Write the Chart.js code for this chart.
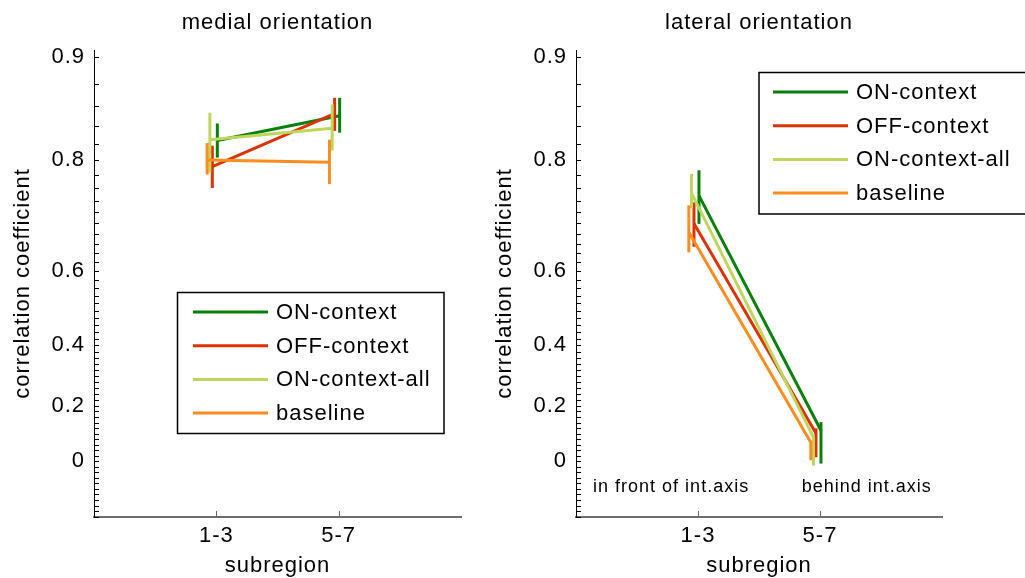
<!DOCTYPE html>
<html>
<head>
<meta charset="utf-8">
<script src="https://cdn.jsdelivr.net/npm/chart.js@4.4.0/dist/chart.umd.min.js"></script>
<style>
  html, body { margin: 0; padding: 0; background: #fff; }
  #wrap { position: relative; width: 1025px; height: 578px; overflow: hidden; }
  .panel { position: absolute; top: 0; height: 578px; }
  #left { left: 0; width: 500px; }
  #right { left: 490px; width: 535px; }
</style>
</head>
<body>
<div id="wrap">
  <div class="panel" id="left"><canvas id="medialChart"></canvas></div>
  <div class="panel" id="right"><canvas id="lateralChart"></canvas></div>
</div>
<script>
// subregions on the x axis (plotted at x = 1, 2)
const subregions = ["1-3", "5-7"];
const seriesNames = ["ON-context", "OFF-context", "ON-context-all", "baseline"];
const seriesColors = ["#0a800a", "#dc3200", "#bed65c", "#ff8c1e"];
// little horizontal dodge per series so the bars don't overlap
const seriesShift = [0.008, -0.033, -0.053, -0.075];

// labelled y ticks; the axis itself runs on Fisher z = atanh(r)
const yTickValues = [0, 0.2, 0.4, 0.6, 0.8, 0.9];
const yRange = [-0.2, 0.905];

// medial orientation: mean r per subregion and [low, high] error range
const medialOn = [0.824, 0.851];
const medialOnErr = [[0.803, 0.843], [0.833, 0.868]];
const medialOff = [0.791, 0.853];
const medialOffErr = [[0.760, 0.818], [0.835, 0.868]];
const medialOnAll = [0.825, 0.838];
const medialOnAllErr = [[0.783, 0.854], [0.812, 0.862]];
const medialBase = [0.800, 0.797];
const medialBaseErr = [[0.780, 0.821], [0.766, 0.825]];

// lateral orientation
const lateralOn = [0.748, 0.112];
const lateralOnErr = [[0.699, 0.786], [-0.008, 0.142]];
const lateralOff = [0.700, 0.102];
const lateralOffErr = [[0.654, 0.737], [0.015, 0.120]];
const lateralOnAll = [0.752, 0.087];
const lateralOnAllErr = [[0.727, 0.781], [-0.015, 0.088]];
const lateralBase = [0.683, 0.069];
const lateralBaseErr = [[0.642, 0.732], [0.004, 0.076]];

const lateralNotes = ["in front of int.axis", "behind int.axis"];

const FONT = "'Liberation Sans', Arial, sans-serif";
Chart.defaults.font.family = FONT;
Chart.defaults.font.size = 22;
Chart.defaults.color = "#000";

const z = r => Math.atanh(r);

// a touch of letter spacing for all text drawn by the charts
const spacing = {
  id: "spacing",
  beforeUpdate(chart) { chart.ctx.letterSpacing = "1px"; },
  beforeLayout(chart) { chart.ctx.letterSpacing = "1px"; },
  beforeDraw(chart) { chart.ctx.letterSpacing = "1px"; }
};

// vertical error bars, drawn right after each line
const errorBars = {
  id: "errorBars",
  afterDatasetDraw(chart, args) {
    const ds = chart.data.datasets[args.index];
    const { ctx, scales: { x, y } } = chart;
    ctx.save();
    ctx.strokeStyle = ds.borderColor;
    ctx.lineWidth = 3;
    ds.data.forEach(p => {
      const px = x.getPixelForValue(p.x);
      ctx.beginPath();
      ctx.moveTo(px, y.getPixelForValue(p.lo));
      ctx.lineTo(px, y.getPixelForValue(p.hi));
      ctx.stroke();
    });
    ctx.restore();
  }
};

// small tick marks pointing into the plot, minor every 0.02 on y
const innerTicks = {
  id: "innerTicks",
  afterDraw(chart) {
    const { ctx, scales: { x, y }, chartArea } = chart;
    ctx.save();
    ctx.lineWidth = 1;
    ctx.strokeStyle = "#000";
    for (let k = -10; k <= 45; k++) {
      const py = Math.round(y.getPixelForValue(z(k * 0.02))) + 0.5;
      ctx.beginPath();
      ctx.moveTo(chartArea.left, py);
      ctx.lineTo(chartArea.left + 5, py);
      ctx.stroke();
    }
    ctx.strokeStyle = "#666";
    subregions.forEach((s, i) => {
      const px = Math.round(x.getPixelForValue(i + 1)) + 0.5;
      ctx.beginPath();
      ctx.moveTo(px, chartArea.bottom);
      ctx.lineTo(px, chartArea.bottom - 6);
      ctx.stroke();
    });
    ctx.restore();
  }
};

// boxed legend at a fixed spot inside the panel
const boxLegend = {
  id: "boxLegend",
  afterDraw(chart, args, o) {
    const { ctx } = chart;
    ctx.save();
    ctx.fillStyle = "#fff";
    ctx.fillRect(o.left, o.top, o.width, o.height);
    ctx.strokeStyle = "#000";
    ctx.lineWidth = 1.5;
    ctx.strokeRect(o.left, o.top, o.width, o.height);
    ctx.font = "22px " + FONT;
    ctx.letterSpacing = "1px";
    ctx.textBaseline = "middle";
    chart.data.datasets.forEach((ds, i) => {
      const yy = o.rowTop + i * o.rowGap;
      ctx.strokeStyle = ds.borderColor;
      ctx.lineWidth = 3;
      ctx.beginPath();
      ctx.moveTo(o.lineX1, yy);
      ctx.lineTo(o.lineX2, yy);
      ctx.stroke();
      ctx.fillStyle = "#000";
      ctx.fillText(ds.label, o.textX, yy + 1);
    });
    ctx.restore();
  }
};

// free text placed in data coordinates
const notes = {
  id: "notes",
  afterDraw(chart, args, o) {
    if (!o.items) return;
    const { ctx, scales: { x, y } } = chart;
    ctx.save();
    ctx.font = "18px " + FONT;
    ctx.letterSpacing = "1px";
    ctx.textBaseline = "middle";
    ctx.fillStyle = "#000";
    o.items.forEach(n => {
      ctx.fillText(n.text, x.getPixelForValue(n.x), y.getPixelForValue(z(n.y)));
    });
    ctx.restore();
  }
};

function buildDatasets(means, errs) {
  return means.map((m, i) => ({
    label: seriesNames[i],
    borderColor: seriesColors[i],
    backgroundColor: seriesColors[i],
    borderWidth: 3,
    borderCapStyle: "butt",
    pointRadius: 0,
    tension: 0,
    order: 4 - i,
    data: m.map((r, j) => ({
      x: j + 1 + seriesShift[i],
      y: z(r),
      lo: z(errs[i][j][0]),
      hi: z(errs[i][j][1])
    }))
  }));
}

function makePanel(id, title, means, errs, lay) {
  return new Chart(document.getElementById(id), {
    type: "line",
    data: { datasets: buildDatasets(means, errs) },
    plugins: [spacing, errorBars, innerTicks, boxLegend, notes],
    options: {
      responsive: true,
      maintainAspectRatio: false,
      animation: false,
      events: [],
      layout: { padding: { left: 0, right: lay.padRight, top: 0, bottom: 0 } },
      plugins: {
        legend: { display: false },
        tooltip: { enabled: false },
        title: {
          display: true,
          fullSize: false,
          text: title,
          font: { size: 22, weight: "normal" },
          color: "#000",
          padding: { top: 9.5, bottom: 14.1 }
        },
        boxLegend: lay.legend,
        notes: { items: lay.notes }
      },
      scales: {
        x: {
          type: "linear",
          min: 0,
          max: 3,
          afterFit(s) { s.height = 61; },
          afterBuildTicks(s) { s.ticks = subregions.map((c, i) => ({ value: i + 1 })); },
          ticks: {
            padding: 6,
            callback: v => subregions[v - 1]
          },
          grid: { display: false, drawTicks: false },
          border: { color: "#6e6e6e", width: 2 },
          title: { display: true, text: "subregion", padding: { top: 0, bottom: -1 } }
        },
        y: {
          type: "linear",
          min: z(yRange[0]),
          max: z(yRange[1]),
          afterFit(s) { s.width = lay.axisLeft; },
          afterBuildTicks(s) { s.ticks = yTickValues.map(v => ({ value: z(v) })); },
          ticks: {
            padding: 9,
            callback: v => String(+Math.tanh(v).toFixed(2))
          },
          grid: { display: false, drawTicks: false },
          border: { color: "#000", width: 1 },
          title: {
            display: true,
            text: "correlation coefficient",
            padding: { top: lay.titlePad, bottom: 0 }
          }
        }
      }
    }
  });
}

makePanel("medialChart", "medial orientation",
  [medialOn, medialOff, medialOnAll, medialBase],
  [medialOnErr, medialOffErr, medialOnAllErr, medialBaseErr],
  {
    axisLeft: 94, padRight: 39, titlePad: 9.3,
    legend: { left: 177.5, top: 292.5, width: 266.5, height: 141, lineX1: 193, lineX2: 268, textX: 276, rowTop: 312, rowGap: 33.7 },
    notes: null
  });

makePanel("lateralChart", "lateral orientation",
  [lateralOn, lateralOff, lateralOnAll, lateralBase],
  [lateralOnErr, lateralOffErr, lateralOnAllErr, lateralBaseErr],
  {
    axisLeft: 86, padRight: 83, titlePad: 1.8,
    legend: { left: 269, top: 72.5, width: 300, height: 141.5, lineX1: 283, lineX2: 358, textX: 366, rowTop: 92, rowGap: 33.7 },
    notes: [
      { text: lateralNotes[0], x: 0.14, y: -0.095 },
      { text: lateralNotes[1], x: 1.85, y: -0.095 }
    ]
  });
</script>
</body>
</html>
